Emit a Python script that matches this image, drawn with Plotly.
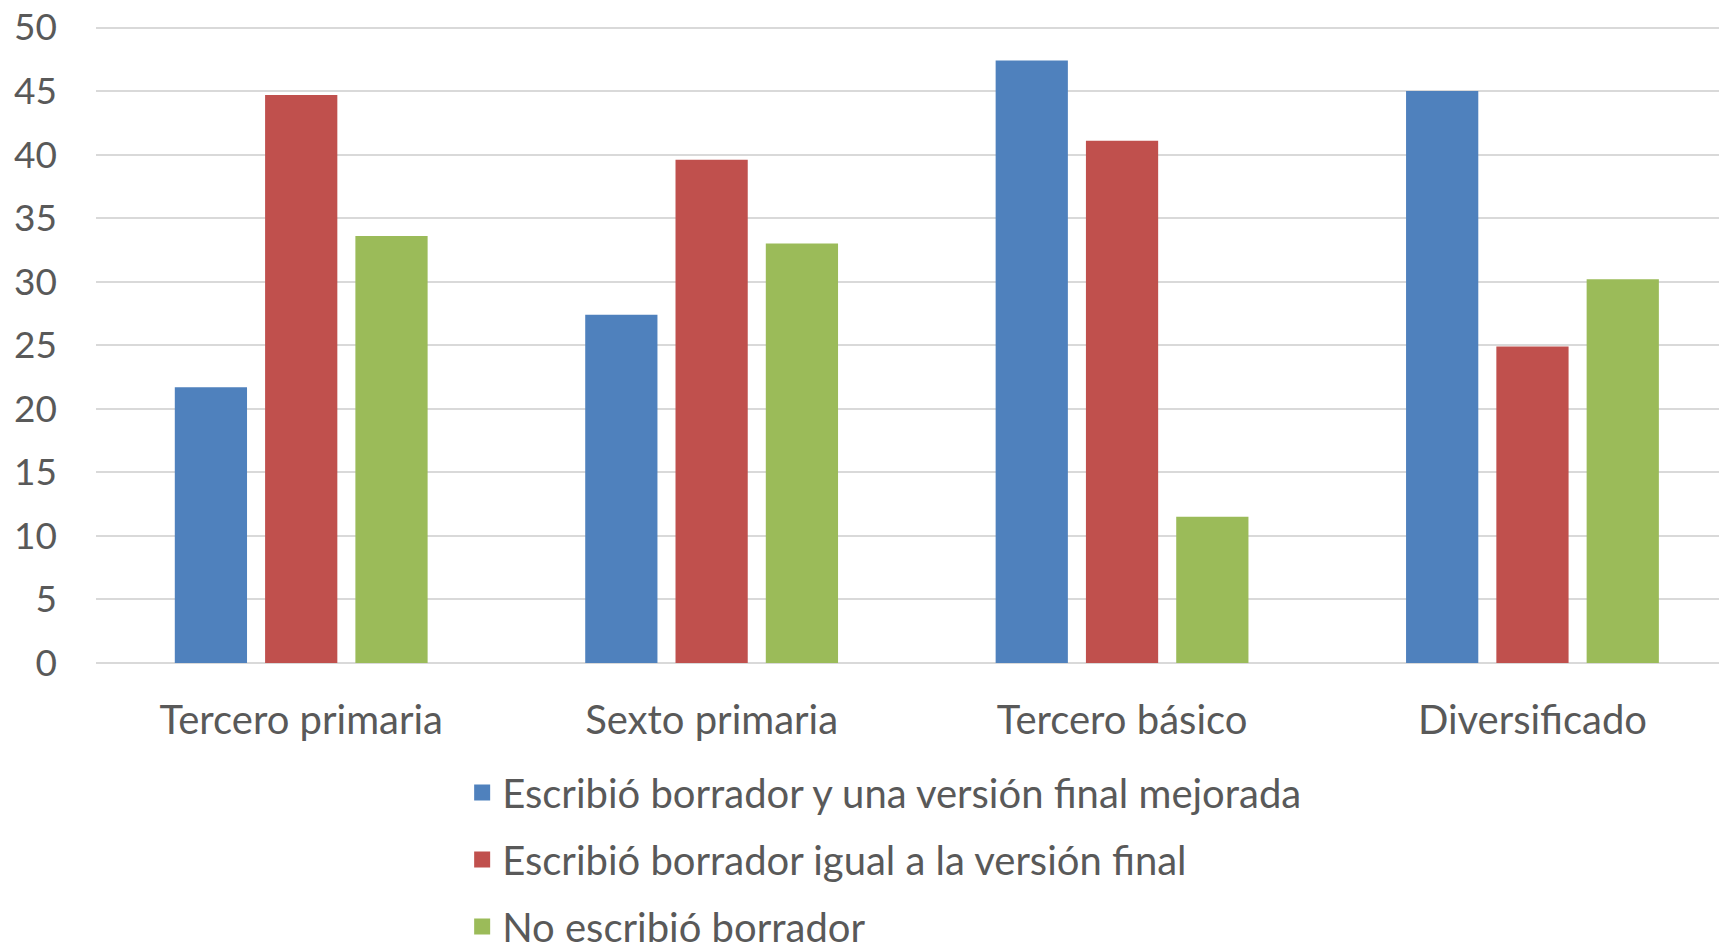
import plotly.graph_objects as go

categories = ["Tercero primaria", "Sexto primaria", "Tercero básico", "Diversificado"]
series_names = [
    "Escribió borrador y una versión final mejorada",
    "Escribió borrador igual a la versión final",
    "No escribió borrador",
]
mejorada = [21.7, 27.4, 47.4, 45.0]
igual = [44.7, 39.6, 41.1, 24.9]
no_borrador = [33.6, 33.0, 11.5, 30.2]
colors = ["#4F81BD", "#C0504D", "#9BBB59"]
y_ticks = [0, 5, 10, 15, 20, 25, 30, 35, 40, 45, 50]

FONT = "Lato, Open Sans, sans-serif"
TXT = "#595959"

fig = go.Figure()
for i, (name, vals) in enumerate(zip(series_names, [mejorada, igual, no_borrador])):
    fig.add_trace(go.Bar(
        x=categories, y=vals, name=name,
        marker=dict(color=colors[i], line=dict(width=0)),
        showlegend=False,
    ))
# legend entries with larger square swatches
for i, name in enumerate(series_names):
    fig.add_trace(go.Scatter(
        x=[None], y=[None], mode="markers", name=name,
        marker=dict(symbol="square", size=16, color=colors[i]),
        legendgroup=f"g{i}", showlegend=True,
    ))

fig.update_layout(
    width=1719, height=937,
    paper_bgcolor="white", plot_bgcolor="white",
    margin=dict(l=88, r=0, t=17, b=282, autoexpand=False),
    barmode="group", bargap=0.34, bargroupgap=0.2,
    font=dict(family=FONT, color=TXT, size=36),
    showlegend=True,
    legend=dict(
        orientation="v", xref="paper", yref="paper",
        x=0.2245, y=-0.152, xanchor="left", yanchor="top",
        font=dict(family=FONT, size=40, color=TXT),
        traceorder="grouped", tracegroupgap=12,
        bgcolor="rgba(0,0,0,0)",
    ),
    xaxis=dict(
        range=[-0.5, 3.474], showgrid=False, showline=False, zeroline=False,
        ticks="", tickfont=dict(family=FONT, size=40, color=TXT),
        ticklabelstandoff=30, tickangle=0,
    ),
    yaxis=dict(
        range=[0, 50.2], tickvals=y_ticks, showgrid=True, gridcolor="#D9D9D9",
        gridwidth=2, zeroline=True, zerolinecolor="#D9D9D9", zerolinewidth=2,
        showline=False, ticks="", tickfont=dict(family=FONT, size=37, color=TXT),
        ticklabelstandoff=38, ticklabeloverflow="allow",
    ),
)

fig.write_html("out.html")
